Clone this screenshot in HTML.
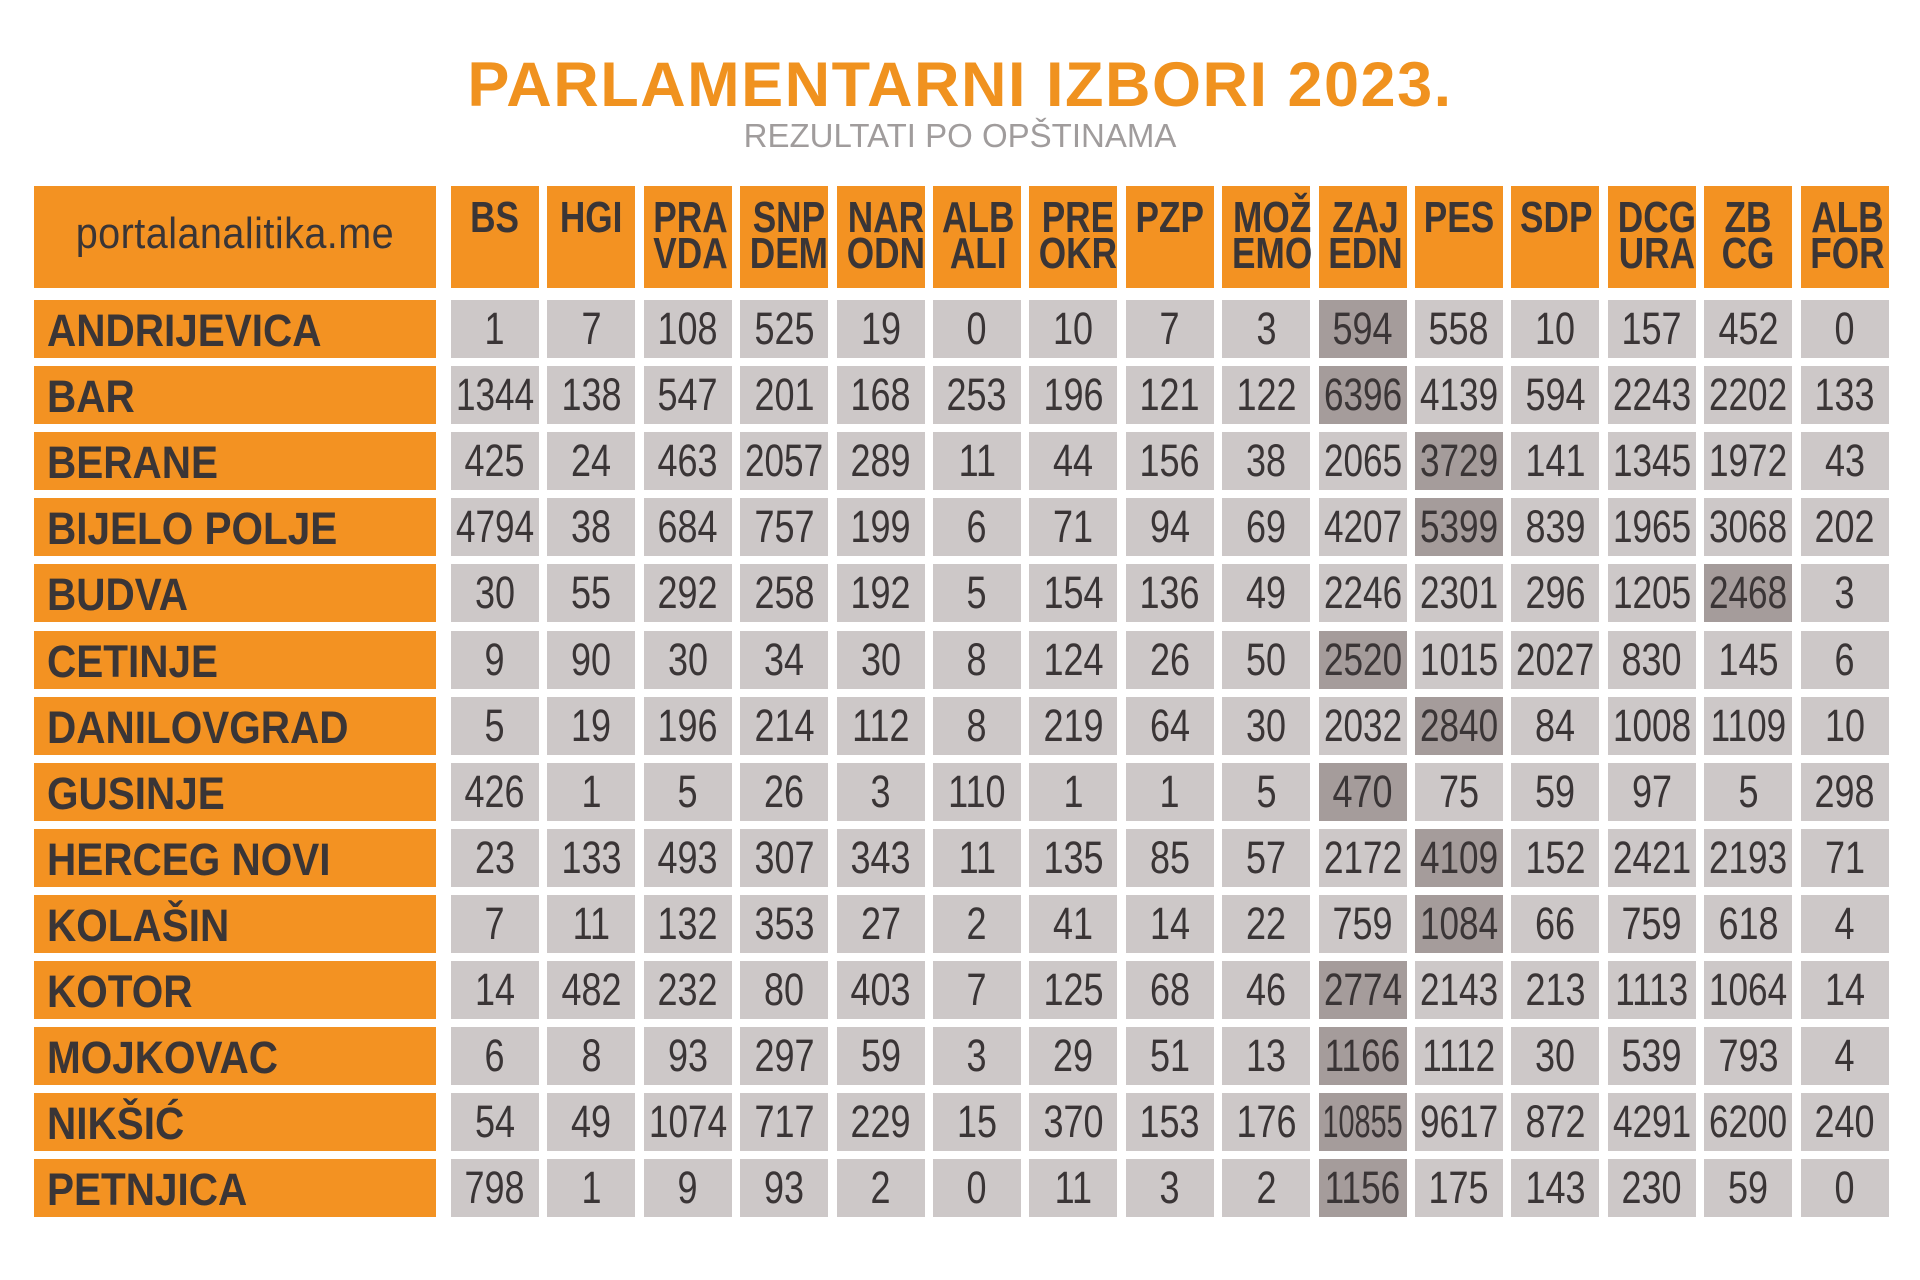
<!DOCTYPE html>
<html><head><meta charset="utf-8"><style>
body{margin:0;width:1920px;height:1280px;background:#fff;position:relative;overflow:hidden;font-family:"Liberation Sans",sans-serif;}
.a{position:absolute;box-sizing:border-box;}
.t{left:0;width:1920px;text-align:center;}
.c{display:flex;align-items:center;justify-content:center;color:#3a3536;}
.s{display:inline-block;white-space:nowrap;}
</style></head><body>
<div class="a t" style="top:49px;font:bold 63px 'Liberation Sans',sans-serif;color:#f0921f;letter-spacing:1.5px;">PARLAMENTARNI IZBORI 2023.</div>
<div class="a t" style="top:117px;font:33px 'Liberation Sans',sans-serif;color:#a09c9c;">REZULTATI PO OPŠTINAMA</div>
<div class="a c" style="left:34px;top:186px;width:402px;height:102px;background:#f39222;font:44px 'Liberation Sans',sans-serif;letter-spacing:0.5px;padding-bottom:6px;"><span class="s" style="transform:scaleX(0.9)">portalanalitika.me</span></div>
<div id="tbl"></div>
<script>
const parties=["BS","HGI","PRA VDA","SNP DEM","NAR ODN","ALB ALI","PRE OKR","PZP","MOŽ EMO","ZAJ EDN","PES","SDP","DCG URA","ZB CG","ALB FOR"];
const municipalities=["ANDRIJEVICA","BAR","BERANE","BIJELO POLJE","BUDVA","CETINJE","DANILOVGRAD","GUSINJE","HERCEG NOVI","KOLAŠIN","KOTOR","MOJKOVAC","NIKŠIĆ","PETNJICA"];
const votes=[
[1,7,108,525,19,0,10,7,3,594,558,10,157,452,0],
[1344,138,547,201,168,253,196,121,122,6396,4139,594,2243,2202,133],
[425,24,463,2057,289,11,44,156,38,2065,3729,141,1345,1972,43],
[4794,38,684,757,199,6,71,94,69,4207,5399,839,1965,3068,202],
[30,55,292,258,192,5,154,136,49,2246,2301,296,1205,2468,3],
[9,90,30,34,30,8,124,26,50,2520,1015,2027,830,145,6],
[5,19,196,214,112,8,219,64,30,2032,2840,84,1008,1109,10],
[426,1,5,26,3,110,1,1,5,470,75,59,97,5,298],
[23,133,493,307,343,11,135,85,57,2172,4109,152,2421,2193,71],
[7,11,132,353,27,2,41,14,22,759,1084,66,759,618,4],
[14,482,232,80,403,7,125,68,46,2774,2143,213,1113,1064,14],
[6,8,93,297,59,3,29,51,13,1166,1112,30,539,793,4],
[54,49,1074,717,229,15,370,153,176,10855,9617,872,4291,6200,240],
[798,1,9,93,2,0,11,3,2,1156,175,143,230,59,0]];
const T=document.getElementById('tbl');
const colX=i=>451+i*96.4, rowY=r=>300+r*66.1;
parties.forEach((p,i)=>{
  const d=document.createElement('div');d.className='a';
  
  
  d.style.cssText=`left:${colX(i)}px;top:186px;width:88px;height:102px;background:#f39222;color:#3a3536;font-weight:bold;font-size:44px;line-height:36px;text-align:center;padding-top:14px;`;
  d.innerHTML=`<span class="s" style="transform:scaleX(0.8);transform-origin:center">${p.split(' ').join('<br>')}</span>`;
  T.appendChild(d);
});
municipalities.forEach((m,r)=>{
  const n=document.createElement('div');n.className='a';
  
  
  n.style.cssText=`left:34px;top:${rowY(r)}px;width:402px;height:58px;background:#f39222;color:#3a3536;font-weight:bold;font-size:45px;line-height:62px;padding-left:13px`;
  n.innerHTML=`<span class="s" style="transform:scaleX(0.9);transform-origin:left">${m}</span>`;
  T.appendChild(n);
  const mx=Math.max(...votes[r]);
  votes[r].forEach((v,i)=>{
    const c=document.createElement('div');c.className='a c';
    
    
    const len=String(v).length;
    const sx=len>=5?0.64:len===4?0.78:0.8;
    c.style.cssText=`left:${colX(i)}px;top:${rowY(r)}px;width:88px;height:58px;background:${v===mx?'#a59c9b':'#cdc8c8'};font-size:45px;`;
    c.innerHTML=`<span class="s" style="transform:scaleX(${sx})">${v}</span>`;
    T.appendChild(c);
  });
});
</script>
</body></html>
